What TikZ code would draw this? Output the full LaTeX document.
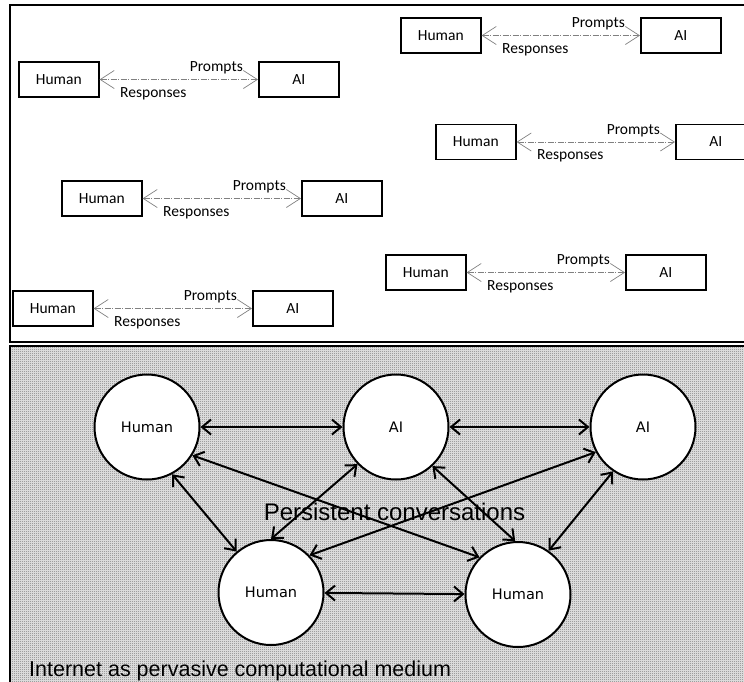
\documentclass[tikz,border=0pt]{standalone}
\usepackage{fontspec}
\newfontfamily\carl{Carlito}
\newfontfamily\dvs{DejaVu Sans}
\newfontfamily\lib{Liberation Sans}
\usetikzlibrary{arrows.meta,patterns}
\pgfdeclarepatternformonly{finedots}{\pgfqpoint{0pt}{0pt}}{\pgfqpoint{2pt}{2pt}}{\pgfqpoint{2pt}{2pt}}{%
  \pgfpathrectangle{\pgfqpoint{0pt}{0pt}}{\pgfqpoint{1pt}{1pt}}\pgfusepath{fill}}
\begin{document}
\begin{tikzpicture}[x=1pt,y=-1pt,
  hbox/.style={draw, line width=1.6pt, minimum width=80pt, minimum height=35pt, inner sep=0pt, anchor=west, fill=white, font=\carl\fontsize{15.5}{18}\selectfont},
  pr/.style={draw=gray, line width=0.7pt, dash pattern=on 6pt off 1.5pt on 1pt off 1.5pt, {Straight Barb[length=14pt,width=18pt]}-{Straight Barb[length=14pt,width=18pt]}},
  lbl/.style={font=\carl\fontsize{15.5}{18}\selectfont, inner sep=0pt},
  circ/.style={circle, draw, line width=2pt, fill=white, minimum size=105pt, inner sep=0pt, font=\dvs\fontsize{14.5}{17}\selectfont},
  conn/.style={line width=2pt, {Straight Barb[length=9pt,width=15pt]}-{Straight Barb[length=9pt,width=15pt]}},
  bigtext/.style={inner sep=0pt, font=\lib\fontsize{24}{28}\selectfont}
]
\useasboundingbox (0,0) rectangle (744,681);
\begin{scope}
\clip (0,0) rectangle (744,681);
\draw[line width=2.2pt] (10,5) rectangle (760,342);
\fill[black!14] (10,346) rectangle (760,700);
\fill[pattern=finedots, pattern color=black!70] (10,346) rectangle (760,700);
\draw[line width=2.2pt] (10,346) rectangle (760,700);

\foreach \i/\hx/\yy in {1/18/79.5, 2/61/198.5, 3/12/308.5, 4/400/35.5, 5/435/142, 6/385/272.5}{
  \node[hbox] (h\i) at (\hx,\yy) {Human};
  \node[hbox] (a\i) at ({\hx+240},\yy) {AI};
  \draw[pr] (h\i) -- (a\i);
  \node[lbl, anchor=base east] (p\i) at ({\hx+225},{\yy-8}) {Prompts};
  \node[lbl, anchor=base west] (r\i) at ({\hx+102},{\yy+17.5}) {Responses};
}

\node[circ] (c1) at (147,427) {Human};
\node[circ] (c2) at (396,427) {AI};
\node[circ] (c3) at (643,427) {AI};
\node[circ] (c4) at (271,592.5) {Human};
\node[circ] (c5) at (518,594.5) {Human};

\draw[conn] (c1) -- (c2);
\draw[conn] (c2) -- (c3);
\draw[conn] (c1.-62) -- (c4.130);
\draw[conn] (c1.-32) -- (c5.136);
\draw[conn] (c2.-136) -- (c4.90);
\draw[conn] (c2.-47) -- (c5.93);
\draw[conn] (c3.-152) -- (c4.44);
\draw[conn] (c3.-124) -- (c5.55);
\draw[conn] (c4) -- (c5);

\node[bigtext, anchor=base] (pc) at (394.5,520) {Persistent conversations};
\node[bigtext, anchor=base west, font=\lib\fontsize{21.5}{25}\selectfont] (im) at (29,676) {Internet as pervasive computational medium};
\end{scope}
\end{tikzpicture}
\end{document}
